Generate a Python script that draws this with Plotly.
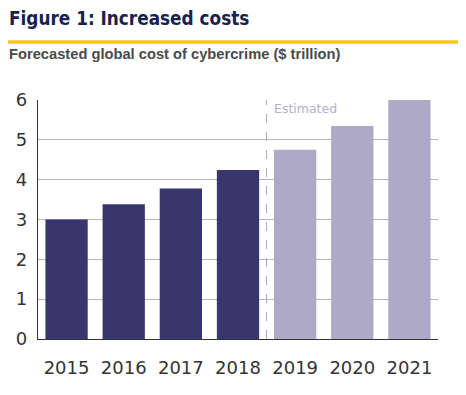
import plotly.graph_objects as go

years = ["2015", "2016", "2017", "2018", "2019", "2020", "2021"]
values = [3.0, 3.38, 3.78, 4.24, 4.75, 5.35, 6.0]
estimated = [False, False, False, False, True, True, True]
y_ticks = [0, 1, 2, 3, 4, 5, 6]

DARK = "#37376d"
LIGHT = "#ada9c7"
colors = [LIGHT if e else DARK for e in estimated]

fig = go.Figure()
fig.add_trace(go.Bar(x=years, y=values, marker=dict(color=colors, line=dict(width=0)),
                     width=0.74, hoverinfo="x+y"))

# page has an 8px body margin, so the figure is sized/offset accordingly
fig.update_layout(
    width=458, height=387,
    margin=dict(l=30, r=28, t=91.5, b=56),
    paper_bgcolor="white", plot_bgcolor="white",
    showlegend=False,
    font=dict(family="DejaVu Sans", color="#333333"),
)
fig.update_xaxes(
    type="category", showgrid=False, automargin=False,
    showline=True, linecolor="#333333", linewidth=1.3,
    tickfont=dict(size=18, color="#333333"),
    ticks="", ticklabelstandoff=12,
)
fig.update_yaxes(
    range=[0, 6], tickvals=y_ticks, automargin=False,
    showgrid=True, gridcolor="#b8b8b8", gridwidth=1,
    showline=True, linecolor="#333333", linewidth=1.3,
    zeroline=False,
    tickfont=dict(size=18, color="#333333"),
    ticks="", ticklabelstandoff=6,
)

# divider between actual and estimated
fig.add_shape(type="line", xref="x", yref="paper", x0=3.5, x1=3.5, y0=0, y1=1,
              line=dict(color="#aaaaaa", width=1, dash="dash"))
fig.add_annotation(text="Estimated", xref="x", yref="paper", x=3.5, y=1,
                   xanchor="left", yanchor="top", xshift=5, yshift=1, showarrow=False,
                   font=dict(size=12.5, color="#b3b0cc", family="DejaVu Sans"))

# header
fig.add_annotation(text="<b>Figure 1: Increased costs</b>", xref="paper", yref="paper",
                   x=0, y=1, xanchor="left", yanchor="middle", showarrow=False,
                   xshift=-31, yshift=91.5 - 10,
                   font=dict(size=18.8, color="#16234f", family="DejaVu Sans Condensed"))
fig.add_shape(type="line", xref="paper", yref="paper",
              xsizemode="pixel", xanchor=0, x0=-31, x1=424,
              ysizemode="pixel", yanchor=1, y0=58, y1=58,
              line=dict(color="#f6c80c", width=3.5))
fig.add_annotation(text="<b>Forecasted global cost of cybercrime ($ trillion)</b>",
                   xref="paper", yref="paper", x=0, y=1, xanchor="left", yanchor="middle",
                   showarrow=False, xshift=-31, yshift=91.5 - 45,
                   font=dict(size=14.7, color="#4a4a4a", family="Liberation Sans"))

fig.write_html("out.html")
